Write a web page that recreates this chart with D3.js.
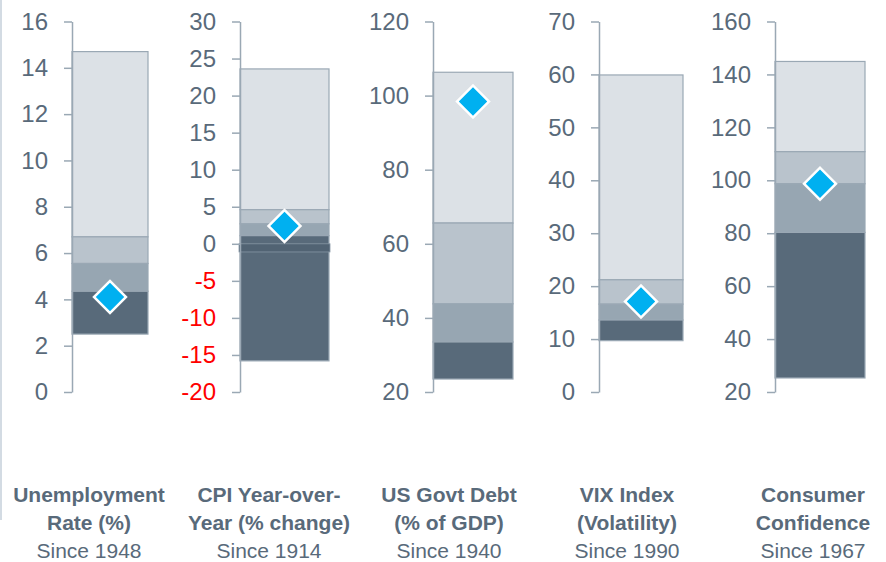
<!DOCTYPE html>
<html>
<head>
<meta charset="utf-8">
<script src="https://cdn.jsdelivr.net/npm/d3@7"></script>
<style>
  body { margin: 0; background: #fff; }
  svg { display: block; font-family: "Liberation Sans", Arial, sans-serif; }
</style>
</head>
<body>
<svg width="886" height="562"></svg>
<script>
// values
var titles = [
  ["Unemployment", "Rate (%)"],
  ["CPI Year-over-", "Year (% change)"],
  ["US Govt Debt", "(% of GDP)"],
  ["VIX Index", "(Volatility)"],
  ["Consumer", "Confidence"]
];
var sinceLabels = ["Since 1948", "Since 1914", "Since 1940", "Since 1990", "Since 1967"];
var mins    = [2.5, -15.8, 23.5, 9.7, 25.3];
var lowQ    = [4.35, 1.1, 33.5, 13.6, 80.3];
var medians = [5.55, 2.7, 43.8, 16.6, 98.7];
var highQ   = [6.7, 4.6, 65.6, 21.2, 110.8];
var maxs    = [14.7, 23.6, 106.3, 59.9, 144.9];
var current = [4.1, 2.4, 98.4, 17.1, 98.7];
var domains = [[0, 16], [-20, 30], [20, 120], [0, 70], [20, 160]];
var tickSteps = [2, 5, 20, 10, 20];

// layout
var axisX = [72, 240, 433, 599, 775];
var barW = [76, 89, 80, 84, 90];
var labelX = [89, 269, 449, 627, 813];
var yTop = 21.5, yBottom = 392;

var bandColors = ["#586a7a", "#97a6b2", "#b9c3cc", "#dce1e6"];
var textColor = "#596a7a";
var lineColor = "#9aa8b4";

var svg = d3.select("svg");

// faint frame line on the left
svg.append("line")
  .attr("x1", 1).attr("x2", 1)
  .attr("y1", 0).attr("y2", 520)
  .style("stroke", "#d3dbe3")
  .style("stroke-width", 2);

titles.forEach(function(t, i) {
  var y = d3.scaleLinear().domain(domains[i]).range([yBottom, yTop]);
  var g = svg.append("g").attr("transform", "translate(" + axisX[i] + ",0)");

  var edges = [mins[i], lowQ[i], medians[i], highQ[i], maxs[i]];
  var bands = d3.range(4).map(function(k) {
    return {lo: edges[k], hi: edges[k + 1], color: bandColors[k]};
  });

  g.selectAll("rect.band")
    .data(bands.slice().reverse())
    .enter().append("rect")
    .attr("class", "band")
    .attr("x", 0)
    .attr("width", barW[i])
    .attr("y", function(d) { return y(d.hi); })
    .attr("height", function(d) { return y(d.lo) - y(d.hi); })
    .style("fill", function(d) { return d.color; })
    .style("stroke", lineColor)
    .style("stroke-width", 1.2);

  // CPI has a small darker strip sitting on the zero line
  if (domains[i][0] < 0) {
    g.append("rect")
      .attr("x", -1)
      .attr("width", barW[i] + 2)
      .attr("y", y(0))
      .attr("height", y(-1.1) - y(0))
      .style("fill", "#516373")
      .style("stroke", "#8797a5")
      .style("stroke-width", 0.8);
  }

  // axis
  var ticks = d3.range(domains[i][0], domains[i][1] + 0.001, tickSteps[i]);
  var axis = d3.axisLeft(y)
    .tickValues(ticks)
    .tickFormat(function(d) { return String(d); })
    .tickSize(8).tickPadding(16).tickSizeOuter(0);
  var ag = g.append("g").call(axis);
  ag.select(".domain").style("stroke", lineColor).style("stroke-width", 1.5);
  ag.selectAll(".tick line").style("stroke", lineColor).style("stroke-width", 1.5);
  ag.selectAll(".tick text")
    .style("font-size", "24px")
    .style("font-family", "Liberation Sans, Arial, sans-serif")
    .style("fill", function(d) { return d < 0 ? "#ff0000" : textColor; });

  // current value marker
  g.append("path")
    .attr("d", d3.symbol().type(d3.symbolSquare).size(510))
    .attr("transform", "translate(" + (barW[i] / 2) + "," + y(current[i]) + ") rotate(45)")
    .style("fill", "#00b0f0")
    .style("stroke", "white")
    .style("stroke-width", 2.5);

  // labels
  var lab = svg.append("text")
    .attr("text-anchor", "middle")
    .style("font-size", "21px")
    .style("fill", textColor);
  t.forEach(function(line, k) {
    lab.append("tspan")
      .attr("x", labelX[i])
      .attr("y", 502 + k * 28)
      .style("font-weight", "bold")
      .text(line);
  });
  lab.append("tspan")
    .attr("x", labelX[i])
    .attr("y", 558)
    .text(sinceLabels[i]);
});
</script>
</body>
</html>
